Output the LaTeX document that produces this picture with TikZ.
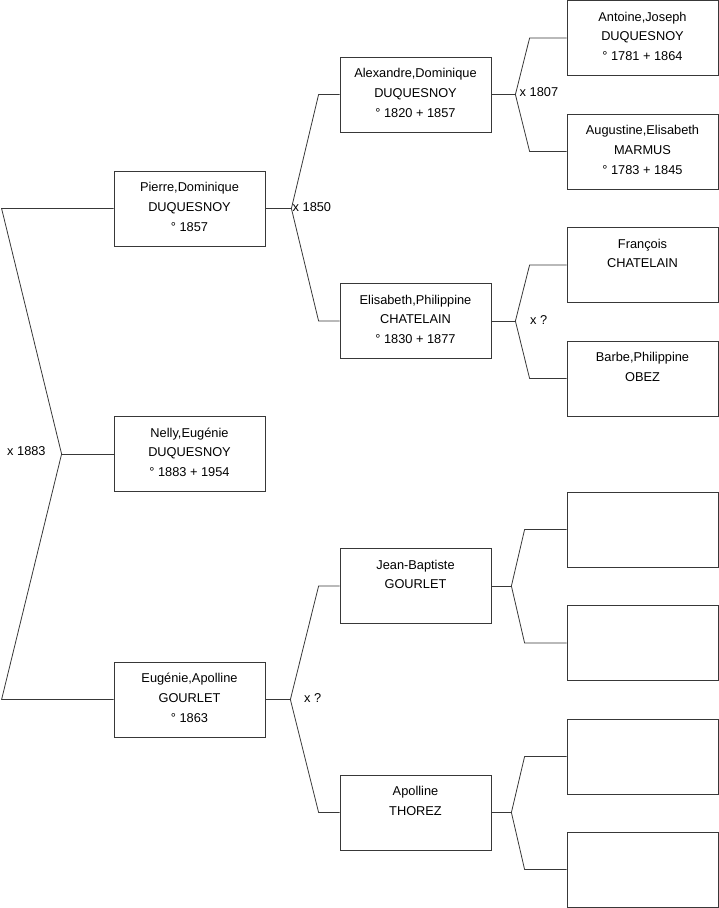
\documentclass[tikz,border=0pt]{standalone}
\usepackage{fontspec}
\setmainfont{Liberation Sans}
\newcommand{\ptext}[1]{\begin{minipage}[c][75pt][t]{151pt}\centering\baselineskip=19.6pt\rule{0pt}{20.8pt}#1\end{minipage}}
\begin{document}
\begin{tikzpicture}[x=1pt,y=-1pt,
  line/.style={draw=black!78, line width=0.8pt},
  person/.style={draw=black!78, line width=0.8pt, rectangle, minimum width=151pt, minimum height=75pt, inner sep=0pt, font=\fontsize{12.8}{19.6}\selectfont},
  lbl/.style={anchor=west, inner sep=0pt, font=\fontsize{12.8}{14}\selectfont}]
\useasboundingbox (0,0) rectangle (719,908);
% level 1
\node[person] (pierre) at (189.5,208.5) {\ptext{Pierre,Dominique\\DUQUESNOY\\° 1857}};
\node[person] (nelly) at (189.5,454) {\ptext{Nelly,Eugénie\\DUQUESNOY\\° 1883 + 1954}};
\node[person] (eugenie) at (189.5,699.5) {\ptext{Eugénie,Apolline\\GOURLET\\° 1863}};
% level 2
\node[person] (alex) at (415.5,94.5) {\ptext{Alexandre,Dominique\\DUQUESNOY\\° 1820 + 1857}};
\node[person] (elis) at (415.5,321) {\ptext{Elisabeth,Philippine\\CHATELAIN\\° 1830 + 1877}};
\node[person] (jean) at (415.5,586) {\ptext{Jean-Baptiste\\GOURLET}};
\node[person] (apol) at (415.5,812.5) {\ptext{Apolline\\THOREZ}};
% level 3
\node[person] (antoine) at (642.5,38) {\ptext{Antoine,Joseph\\DUQUESNOY\\° 1781 + 1864}};
\node[person] (augustine) at (642.5,151.5) {\ptext{Augustine,Elisabeth\\MARMUS\\° 1783 + 1845}};
\node[person] (francois) at (642.5,265) {\ptext{François\\CHATELAIN}};
\node[person] (barbe) at (642.5,378.5) {\ptext{Barbe,Philippine\\OBEZ}};
\node[person] (e1) at (642.5,529.5) {};
\node[person] (e2) at (642.5,643) {};
\node[person] (e3) at (642.5,756.5) {};
\node[person] (e4) at (642.5,869.5) {};
% connectors
\coordinate (jn) at ([xshift=-52pt]nelly.west);
\draw[line] (pierre.west) -- ([xshift=-112pt]pierre.west) -- (jn) -- ([xshift=-112pt]eugenie.west) -- (eugenie.west);
\draw[line] (jn) -- (nelly.west);
\coordinate (jp) at ([xshift=26pt]pierre.east);
\draw[line] (alex.west) -- ([xshift=-21pt]alex.west) -- (jp) -- ([xshift=-21pt]elis.west) -- (elis.west);
\draw[line] (pierre.east) -- (jp);
\coordinate (je) at ([xshift=25pt]eugenie.east);
\draw[line] (jean.west) -- ([xshift=-21pt]jean.west) -- (je) -- ([xshift=-21pt]apol.west) -- (apol.west);
\draw[line] (eugenie.east) -- (je);
\coordinate (ja) at ([xshift=24pt]alex.east);
\draw[line] (antoine.west) -- ([xshift=-37pt]antoine.west) -- (ja) -- ([xshift=-37pt]augustine.west) -- (augustine.west);
\draw[line] (alex.east) -- (ja);
\coordinate (jl) at ([xshift=24pt]elis.east);
\draw[line] (francois.west) -- ([xshift=-37pt]francois.west) -- (jl) -- ([xshift=-37pt]barbe.west) -- (barbe.west);
\draw[line] (elis.east) -- (jl);
\coordinate (jj) at ([xshift=20pt]jean.east);
\draw[line] (e1.west) -- ([xshift=-42pt]e1.west) -- (jj) -- ([xshift=-42pt]e2.west) -- (e2.west);
\draw[line] (jean.east) -- (jj);
\coordinate (jt) at ([xshift=20pt]apol.east);
\draw[line] (e3.west) -- ([xshift=-42pt]e3.west) -- (jt) -- ([xshift=-42pt]e4.west) -- (e4.west);
\draw[line] (apol.east) -- (jt);
% marriage labels
\node[lbl] (m1883) at (7,451) {x 1883};
\node[lbl] (m1850) at (292.5,207) {x 1850};
\node[lbl] (m1807) at (519.5,92.5) {x 1807};
\node[lbl] (mq1) at (530,320.5) {x ?};
\node[lbl] (mq2) at (304,698) {x ?};
\end{tikzpicture}
\end{document}
